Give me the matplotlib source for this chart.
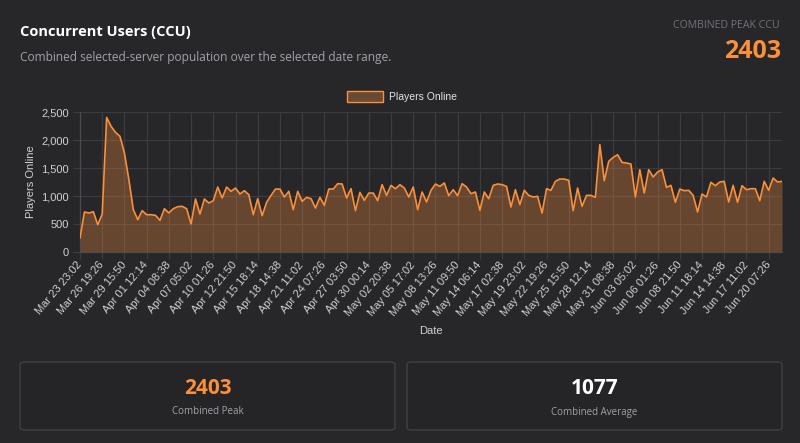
import matplotlib
matplotlib.use("Agg")
import matplotlib.pyplot as plt
from matplotlib.patches import FancyBboxPatch, Rectangle

# data
players_online = [
    250, 714, 696, 720, 488, 678, 2403, 2243, 2136, 2065,
    1767, 1291, 756, 577, 738, 666, 666, 654, 565, 773,
    696, 773, 809, 815, 773, 500, 946, 678, 946, 875,
    916, 1160, 964, 1160, 1083, 1142, 1035, 1095, 1023, 666,
    952, 648, 887, 1011, 1124, 1124, 982, 1083, 756, 1083,
    904, 976, 952, 785, 976, 833, 1124, 1124, 1220, 1214,
    964, 1130, 738, 1065, 922, 1053, 1053, 916, 1202, 1011,
    1190, 1130, 1202, 1142, 982, 1160, 756, 1071, 893, 1100,
    1214, 1172, 1232, 1005, 1113, 1005, 1220, 1160, 1041, 1071,
    744, 1071, 952, 1190, 1214, 1202, 1172, 803, 1113, 845,
    1101, 1011, 982, 994, 696, 1130, 1101, 1261, 1303, 1303,
    1279, 738, 1142, 815, 1011, 1011, 976, 1916, 1273, 1618,
    1690, 1737, 1600, 1589, 1571, 982, 1470, 1053, 1470, 1339,
    1428, 1470, 1154, 1190, 887, 1124, 1095, 1101, 1011, 714,
    1035, 982, 1244, 1184, 1250, 1261, 893, 1190, 887, 1184,
    1113, 1130, 1130, 916, 1261, 1101, 1321, 1250, 1261,
]
tick_labels = [
    "Mar 23 23:02", "Mar 26 19:26", "Mar 29 15:50", "Apr 01 12:14",
    "Apr 04 08:38", "Apr 07 05:02", "Apr 10 01:26", "Apr 12 21:50",
    "Apr 15 18:14", "Apr 18 14:38", "Apr 21 11:02", "Apr 24 07:26",
    "Apr 27 03:50", "Apr 30 00:14", "May 02 20:38", "May 05 17:02",
    "May 08 13:26", "May 11 09:50", "May 14 06:14", "May 17 02:38",
    "May 19 23:02", "May 22 19:26", "May 25 15:50", "May 28 12:14",
    "May 31 08:38", "Jun 03 05:02", "Jun 06 01:26", "Jun 08 21:50",
    "Jun 11 18:14", "Jun 14 14:38", "Jun 17 11:02", "Jun 20 07:26",
]
tick_step = 5
combined_peak = 2403
combined_average = 1077

BG = "#27272a"
ORANGE = "#fb8f3a"
GRID = "#3b3b40"
TICK_COLOR = "#cfcfd4"
HEAD_FONT = ["Open Sans", "DejaVu Sans"]

plt.rcParams["font.family"] = ["Liberation Sans", "DejaVu Sans"]

fig = plt.figure(figsize=(8, 4.43), dpi=100, facecolor=BG)

# header
fig.text(20 / 800, 1 - 32 / 443, "Concurrent Users (CCU)", color="white",
         fontsize=10.5, fontweight="bold", family=HEAD_FONT, va="center")
fig.text(20 / 800, 1 - 57 / 443,
         "Combined selected-server population over the selected date range.",
         color="#a1a1aa", fontsize=8.6, family=HEAD_FONT, va="center")
fig.text(780 / 800, 1 - 25 / 443, "COMBINED PEAK CCU", color="#71717a",
         fontsize=7.6, family=HEAD_FONT, ha="right", va="center")
fig.text(781 / 800, 1 - 51 / 443, str(combined_peak), color=ORANGE,
         fontsize=18, fontweight="bold", family=HEAD_FONT,
         ha="right", va="center")

# chart
ax = fig.add_axes([80 / 800, 1 - 252 / 443, 702 / 800, 140 / 443])
ax.set_facecolor(BG)
x = list(range(len(players_online)))
ax.fill_between(x, players_online, 0, color=ORANGE, alpha=0.3, lw=0, zorder=2)
ax.plot(x, players_online, color=ORANGE, lw=1.2, zorder=3)

ax.set_xlim(0, len(players_online) - 1)
ax.set_ylim(0, 2500)
ax.set_yticks(range(0, 2501, 500))
ax.set_yticklabels([f"{v:,}" for v in range(0, 2501, 500)])
ax.set_xticks(range(0, len(players_online), tick_step))
ax.set_xticklabels(tick_labels, rotation=50, ha="right",
                   rotation_mode="anchor", va="center")
ax.grid(True, color=GRID, lw=0.9, zorder=1)
ax.tick_params(colors=TICK_COLOR, labelsize=8, length=5, width=0.9,
               pad=3)
ax.tick_params(axis="x", color=GRID)
ax.tick_params(axis="y", color=GRID)
for side in ("top", "right"):
    ax.spines[side].set_visible(False)
for side in ("left", "bottom"):
    ax.spines[side].set_color("#4a4a50")
    ax.spines[side].set_linewidth(0.9)

ax.set_ylabel("Players Online", color=TICK_COLOR, fontsize=8, labelpad=4)
ax.set_xlabel("Date", color=TICK_COLOR, fontsize=8, labelpad=6)

# legend
fig.patches.append(Rectangle((347 / 800, 1 - 102 / 443), 36 / 800, 11 / 443,
                             transform=fig.transFigure, facecolor="#684a33",
                             edgecolor=ORANGE, lw=1.0))
fig.text(389 / 800, 1 - 97 / 443, "Players Online", color="#e4e4e7",
         fontsize=7.5, va="center")

# summary cards
cards = [
    (20, str(combined_peak), ORANGE, "Combined Peak"),
    (407, str(combined_average), "white", "Combined Average"),
]
for left, value, color, label in cards:
    fig.patches.append(FancyBboxPatch(
        (left / 800, 1 - 430 / 443), 375 / 800, 68 / 443,
        boxstyle="round,pad=0,rounding_size=0.006",
        transform=fig.transFigure, facecolor="#252528",
        edgecolor="#3f3f46", lw=1.0))
    cx = (left + 187.5) / 800
    fig.text(cx, 1 - 388 / 443, value, color=color, fontsize=15,
             fontweight="bold", family=HEAD_FONT, ha="center", va="center")
    fig.text(cx, 1 - 412 / 443, label, color="#a1a1aa", fontsize=7,
             family=HEAD_FONT, ha="center", va="center")

fig.savefig("out.png", dpi=100, facecolor=BG)
